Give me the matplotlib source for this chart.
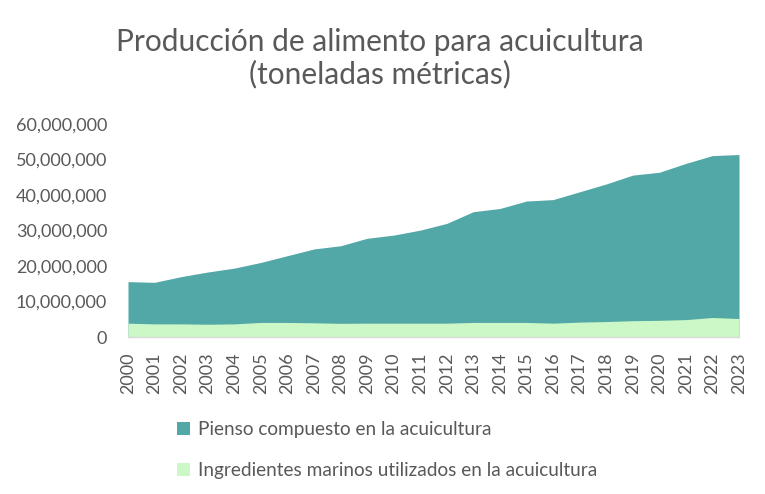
"""Producción de alimento para acuicultura - area chart."""

import matplotlib.pyplot as plt
from matplotlib.patches import Patch
from matplotlib.ticker import FuncFormatter

years = list(range(2000, 2024))

pienso = [
    15.6, 15.4, 17.0, 18.3, 19.4, 21.0, 22.9, 24.8, 25.7, 27.8, 28.7, 30.1,
    32.0, 35.3, 36.2, 38.3, 38.7, 40.9, 43.1, 45.6, 46.4, 48.9, 51.1, 51.4,
]
pienso = [v * 1e6 for v in pienso]

marinos = [
    3.9, 3.7, 3.7, 3.6, 3.7, 4.1, 4.1, 4.0, 3.85, 3.9, 3.9, 3.9,
    3.9, 4.1, 4.1, 4.1, 3.9, 4.2, 4.35, 4.6, 4.7, 4.9, 5.5, 5.2,
]
marinos = [v * 1e6 for v in marinos]

labels = ["Pienso compuesto en la acuicultura",
          "Ingredientes marinos utilizados en la acuicultura"]
colors = ["#52a7a7", "#ccf7c6"]
text_color = "#595959"

plt.rcParams["font.family"] = ["Lato", "DejaVu Sans"]

fig = plt.figure(figsize=(7.65, 4.94), dpi=100, facecolor="white")
ax = fig.add_axes([128 / 765, 1 - 337 / 494, (739 - 128) / 765, (337 - 124) / 494])

ax.fill_between(years, 0, pienso, color=colors[0], linewidth=0)
ax.fill_between(years, 0, marinos, color=colors[1], linewidth=0)

ax.set_xlim(2000, 2023)
ax.set_ylim(0, 60e6)
ax.set_yticks(range(0, 60000001, 10000000))
ax.yaxis.set_major_formatter(FuncFormatter(lambda v, _: f"{int(v):,}"))
ax.set_xticks(years)
ax.set_xticklabels([str(y) for y in years], rotation=90)

for side in ["top", "right", "left"]:
    ax.spines[side].set_visible(False)
ax.spines["bottom"].set_color("#d9d9d9")
ax.spines["bottom"].set_linewidth(1.0)
ax.tick_params(axis="both", length=0, labelsize=13, colors=text_color)
ax.tick_params(axis="y", pad=15)
ax.tick_params(axis="x", pad=11)

fig.text(0.497, 1 - 58 / 494, "Producción de alimento para acuicultura\n(toneladas métricas)",
         ha="center", va="center", fontsize=21.5, color=text_color, linespacing=1.15)

handles = [Patch(facecolor=c, edgecolor="none") for c in colors]
fig.legend(handles, labels, loc="upper left", bbox_to_anchor=(160 / 765, 1 - 404 / 494),
           frameon=False, fontsize=13.7, labelcolor=text_color, handlelength=0.7,
           handleheight=0.7, handletextpad=0.4, labelspacing=1.25)

fig.savefig("out.png", dpi=100, facecolor="white")
